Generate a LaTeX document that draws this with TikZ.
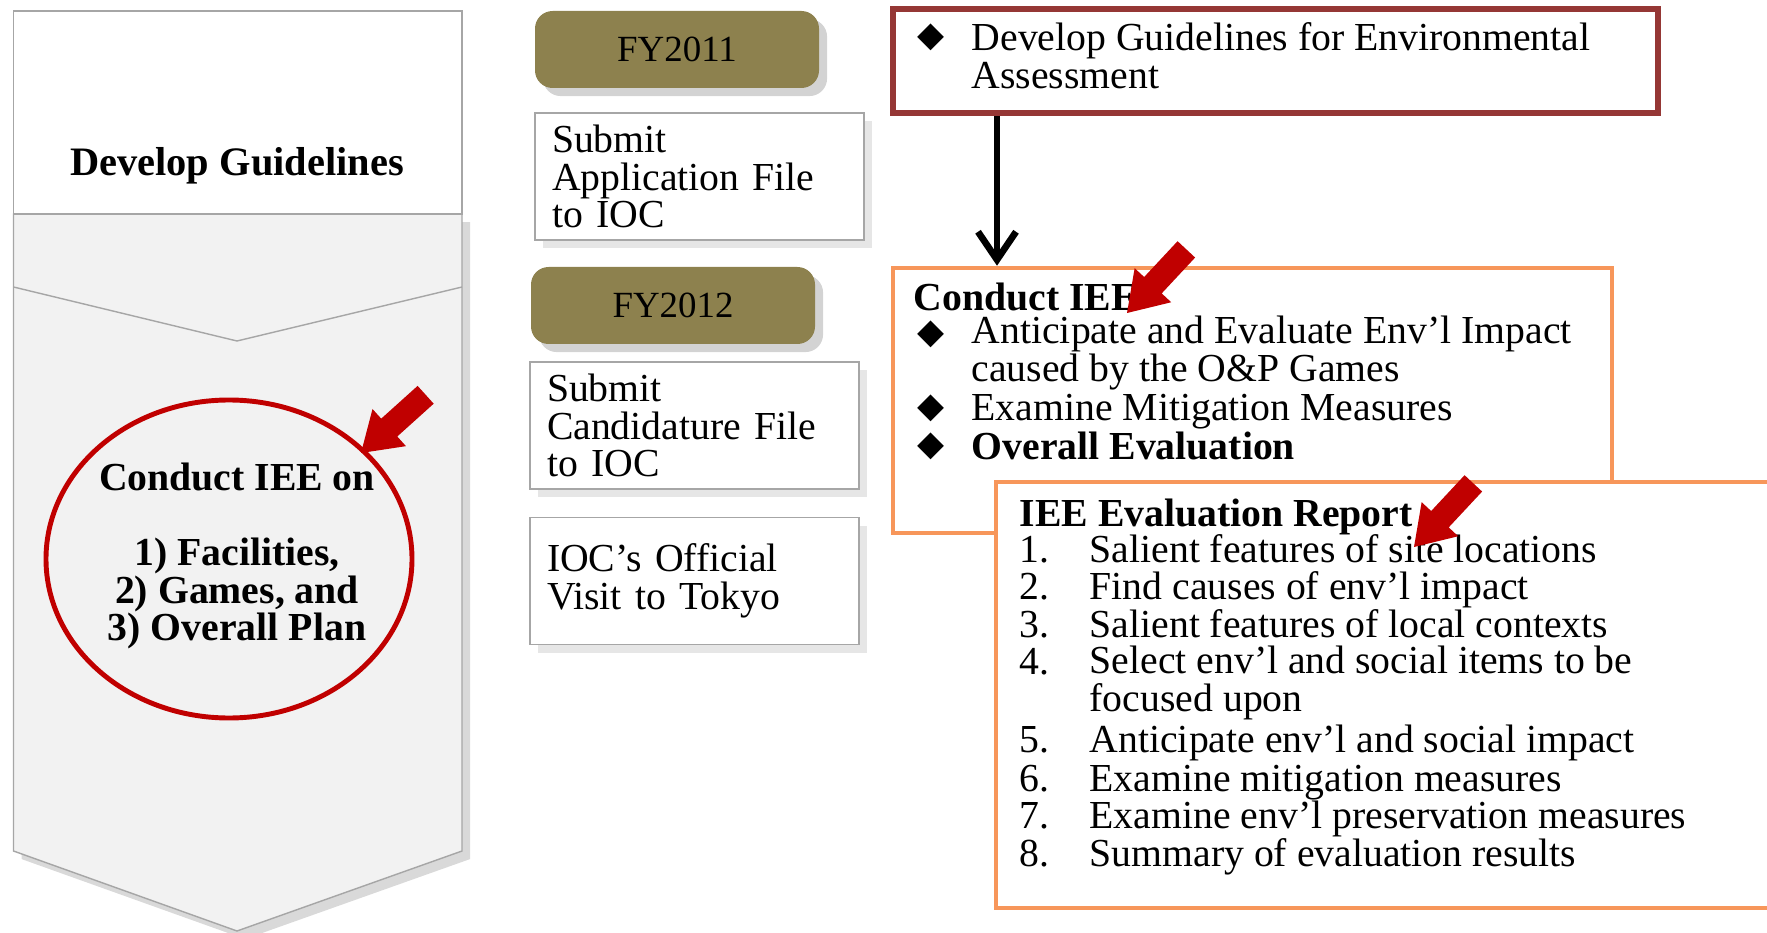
\documentclass[tikz,border=0pt]{standalone}
\usepackage{fontspec}
\setmainfont{Liberation Serif}
\newfontfamily\symfont{DejaVu Sans}
\usetikzlibrary{shapes.geometric,arrows.meta,shadows}

\definecolor{fyolive}{RGB}{141,129,78}
\definecolor{boxgray}{RGB}{166,166,166}
\definecolor{panelfill}{RGB}{242,242,242}
\definecolor{guidered}{RGB}{149,55,53}
\definecolor{ieeorange}{RGB}{247,150,90}
\definecolor{ptrred}{RGB}{192,0,0}

\newcommand{\bul}{{\symfont\fontsize{10}{10}\selectfont ◆}}
\newcommand{\redptr}[2]{\fill[ptrred, shift={#1}, rotate=#2] (0,0) -- (-0.38,0.25) -- (-0.38,0.12) -- (-0.87,0.12) -- (-0.87,-0.12) -- (-0.38,-0.12) -- (-0.38,-0.25) -- cycle;}

\tikzset{
  txt/.style={anchor=base west, inner sep=0pt, align=left, font=\fontsize{11.3}{10.7}\selectfont},
  fybox/.style={rounded corners=5pt, fill=fyolive, minimum width=2.84cm, minimum height=0.77cm,
    drop shadow={opacity=0.35}, font=\fontsize{10.5}{12}\selectfont},
  taskbox/.style={draw=boxgray, fill=white, minimum width=3.29cm, minimum height=1.27cm,
    text width=2.95cm, inner xsep=0.17cm, align=left, font=\fontsize{11.3}{10.7}\selectfont,
    drop shadow={opacity=0.2}},
  plainbox/.style={rectangle, fill=white, inner sep=0pt}
}

\begin{document}
\begin{tikzpicture}
  \useasboundingbox (0,0) rectangle (17.67,-9.33);
  \clip (0,0) rectangle (17.67,-9.33);

  % left panel
  \draw[boxgray, fill=panelfill, drop shadow={opacity=0.3}] (0.135,-2.14) -- (4.62,-2.14) -- (4.62,-8.51) -- (2.37,-9.31) -- (0.135,-8.51) -- cycle;
  \draw[boxgray] (0.135,-2.87) -- (2.37,-3.41) -- (4.62,-2.87);
  \draw[boxgray, fill=white] (0.135,-0.11) rectangle (4.62,-2.14);
  \node[font=\bfseries\fontsize{11.5}{13}\selectfont] (devg) at (2.37,-1.66) {Develop Guidelines};
  \node[ellipse, draw=ptrred, line width=1.4pt, minimum width=3.66cm, minimum height=3.18cm] (circ) at (2.29,-5.59) {};
  \node[align=center, inner sep=0pt, font=\bfseries\fontsize{11.3}{10.7}\selectfont] (circtxt) at (2.37,-5.56)
    {Conduct IEE on\\[10.7pt]1) Facilities,\\2) Games, and\\3) Overall Plan};

  % years and tasks
  \node[fybox] (fy1) at (6.77,-0.495) {FY2011};
  \node[taskbox] (app) at (6.995,-1.765) {Submit\\Application File\\to IOC};
  \node[fybox] (fy2) at (6.73,-3.055) {FY2012};
  \node[taskbox] (cand) at (6.945,-4.255) {Submit\\Candidature File\\to IOC};
  \node[taskbox] (visit) at (6.945,-5.81) {IOC's Official\\Visit to Tokyo};

  % right boxes
  \node[plainbox, draw=guidered, line width=1.6pt, minimum width=7.65cm, minimum height=1.04cm] (guidebox) at (12.755,-0.61) {};
  \node[plainbox, draw=ieeorange, line width=1.3pt, minimum width=7.19cm, minimum height=2.65cm] (ieebox) at (12.525,-4.005) {};
  \node[plainbox, draw=ieeorange, line width=1.3pt, minimum width=7.79cm, minimum height=4.26cm] (repbox) at (13.855,-6.95) {};

  \coordinate (arrx) at (9.97,0);
  \draw[line width=1.9pt, -{Straight Barb[length=2.8mm,width=3.8mm]}] (guidebox.south -| arrx) -- (ieebox.north -| arrx);

  \node (b1) at (9.31,-0.37) {\bul};
  \node[txt, anchor=west] (g1) at (9.71,-0.56) {Develop Guidelines for Environmental\\Assessment};

  \node[txt, font=\bfseries\fontsize{11.3}{10.7}\selectfont] (ieeh) at (9.13,-3.11) {Conduct IEE};
  \node (b2) at (9.31,-3.34) {\bul};
  \node (b3) at (9.31,-4.08) {\bul};
  \node (b4) at (9.31,-4.46) {\bul};
  \node[txt, anchor=west] (i1) at (9.71,-3.53) {Anticipate and Evaluate Env'l Impact\\caused by the O\&P Games};
  \node[txt] (i2) at (9.71,-4.21) {Examine Mitigation Measures};
  \node[txt, font=\bfseries\fontsize{11.3}{10.7}\selectfont] (i3) at (9.71,-4.59) {Overall Evaluation};

  \node[txt, font=\bfseries\fontsize{11.3}{10.7}\selectfont] (reph) at (10.19,-5.26) {IEE Evaluation Report};
  \node[txt] (n1) at (10.19,-5.62) {1.};
  \node[txt] (n2) at (10.19,-5.99) {2.};
  \node[txt] (n3) at (10.19,-6.37) {3.};
  \node[txt] (n4) at (10.19,-6.74) {4.};
  \node[txt] (n5) at (10.19,-7.52) {5.};
  \node[txt] (n6) at (10.19,-7.91) {6.};
  \node[txt] (n7) at (10.19,-8.28) {7.};
  \node[txt] (n8) at (10.19,-8.66) {8.};
  \node[txt] (r1) at (10.89,-5.62) {Salient features of site locations};
  \node[txt] (r2) at (10.89,-5.99) {Find causes of env'l impact};
  \node[txt] (r3) at (10.89,-6.37) {Salient features of local contexts};
  \node[txt, anchor=west] (r4) at (10.89,-6.83) {Select env'l and social items to be\\focused upon};
  \node[txt] (r5) at (10.89,-7.52) {Anticipate env'l and social impact};
  \node[txt] (r6) at (10.89,-7.91) {Examine mitigation measures};
  \node[txt] (r7) at (10.89,-8.28) {Examine env'l preservation measures};
  \node[txt] (r8) at (10.89,-8.66) {Summary of evaluation results};

  % red pointers
  \redptr{(3.61,-4.53)}{222}
  \redptr{(11.27,-3.13)}{227}
  \redptr{(14.14,-5.47)}{227}
\end{tikzpicture}
\end{document}
